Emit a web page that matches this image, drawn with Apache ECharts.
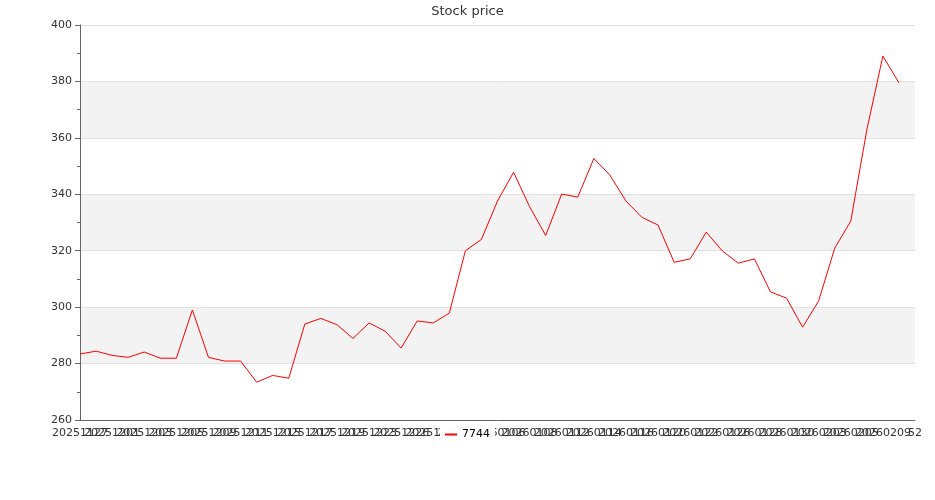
<!DOCTYPE html>
<html><head><meta charset="utf-8">
<script src="https://cdn.jsdelivr.net/npm/echarts@6/dist/echarts.min.js"></script>
<style>html,body{margin:0;padding:0;background:#fff}#c{width:935px;height:500px}</style>
</head><body><div id="c"></div>
<script>
const dates = ['20251127','20251128','20251201','20251202','20251203','20251204','20251205',
'20251208','20251209','20251210','20251211','20251212','20251215','20251216','20251217','20251218','20251219',
'20251222','20251223','20251224','20251226','20251229','20251230','20251231','20260102',
'20260105','20260106','20260107','20260108','20260109','20260112','20260113','20260114','20260115','20260116',
'20260119','20260120','20260121','20260122','20260123','20260126','20260127','20260128','20260129','20260130',
'20260202','20260203','20260204','20260205','20260206','20260209','20260210','52'];
const prices = [283.4,284.4,282.9,282.2,284.1,281.9,281.9,299.0,282.2,280.9,280.9,273.4,275.8,274.8,294.0,296.0,293.8,288.9,
294.4,291.5,285.5,295.1,294.4,297.9,320.0,324.0,337.6,347.8,335.6,325.4,340.1,339.0,352.7,346.8,337.6,331.8,329.1,315.9,317.1,
326.6,319.9,315.6,317.1,305.4,303.2,292.9,302.2,320.9,330.5,362.8,389.0,379.5];
const seriesName = '7744';
const titleText = 'Stock price';
const chart = echarts.init(document.getElementById('c'));
const font = 'DejaVu Sans';
chart.setOption({
  animation:false,
  textStyle:{fontFamily:font},
  title:{text:titleText,left:'center',top:0,textStyle:{fontSize:13,fontWeight:'normal',color:'#333',fontFamily:font}},
  legend:{data:[{name:seriesName}],top:424,left:'center',icon:'rect',itemWidth:12,itemHeight:2,itemGap:10,backgroundColor:'#fff',padding:5,
    textStyle:{fontSize:11,color:'#000',fontFamily:font}},
  grid:{left:80,right:20,top:25,bottom:80,containLabel:false,outerBoundsMode:'none'},
  xAxis:{type:'category',data:dates,boundaryGap:false,
    axisLine:{lineStyle:{color:'#666'}},axisTick:{show:false},
    axisLabel:{interval:0,fontSize:11,color:'#333',fontFamily:font,margin:8,hideOverlap:false,
      alignMinLabel:'center',alignMaxLabel:'center',
      formatter:function(v,i){return i%2===0?v:'';}},splitLine:{show:false}},
  yAxis:{type:'value',min:260,max:400,interval:20,
    axisLine:{show:true,lineStyle:{color:'#666'}},axisTick:{show:true,length:5,lineStyle:{color:'#666'}},
    minorTick:{show:true,splitNumber:2,length:3,lineStyle:{color:'#666'}},
    axisLabel:{fontSize:11,color:'#333',fontFamily:font,margin:8},
    splitLine:{show:true,lineStyle:{color:'#e0e0e0'}},
    splitArea:{show:true,areaStyle:{color:['#ffffff','#f3f3f3']}}},
  series:[{name:seriesName,type:'line',data:prices,showSymbol:false,symbol:'none',
    lineStyle:{color:'#ff0000',width:1},itemStyle:{color:'#ff0000'}}]
});
</script></body></html>
